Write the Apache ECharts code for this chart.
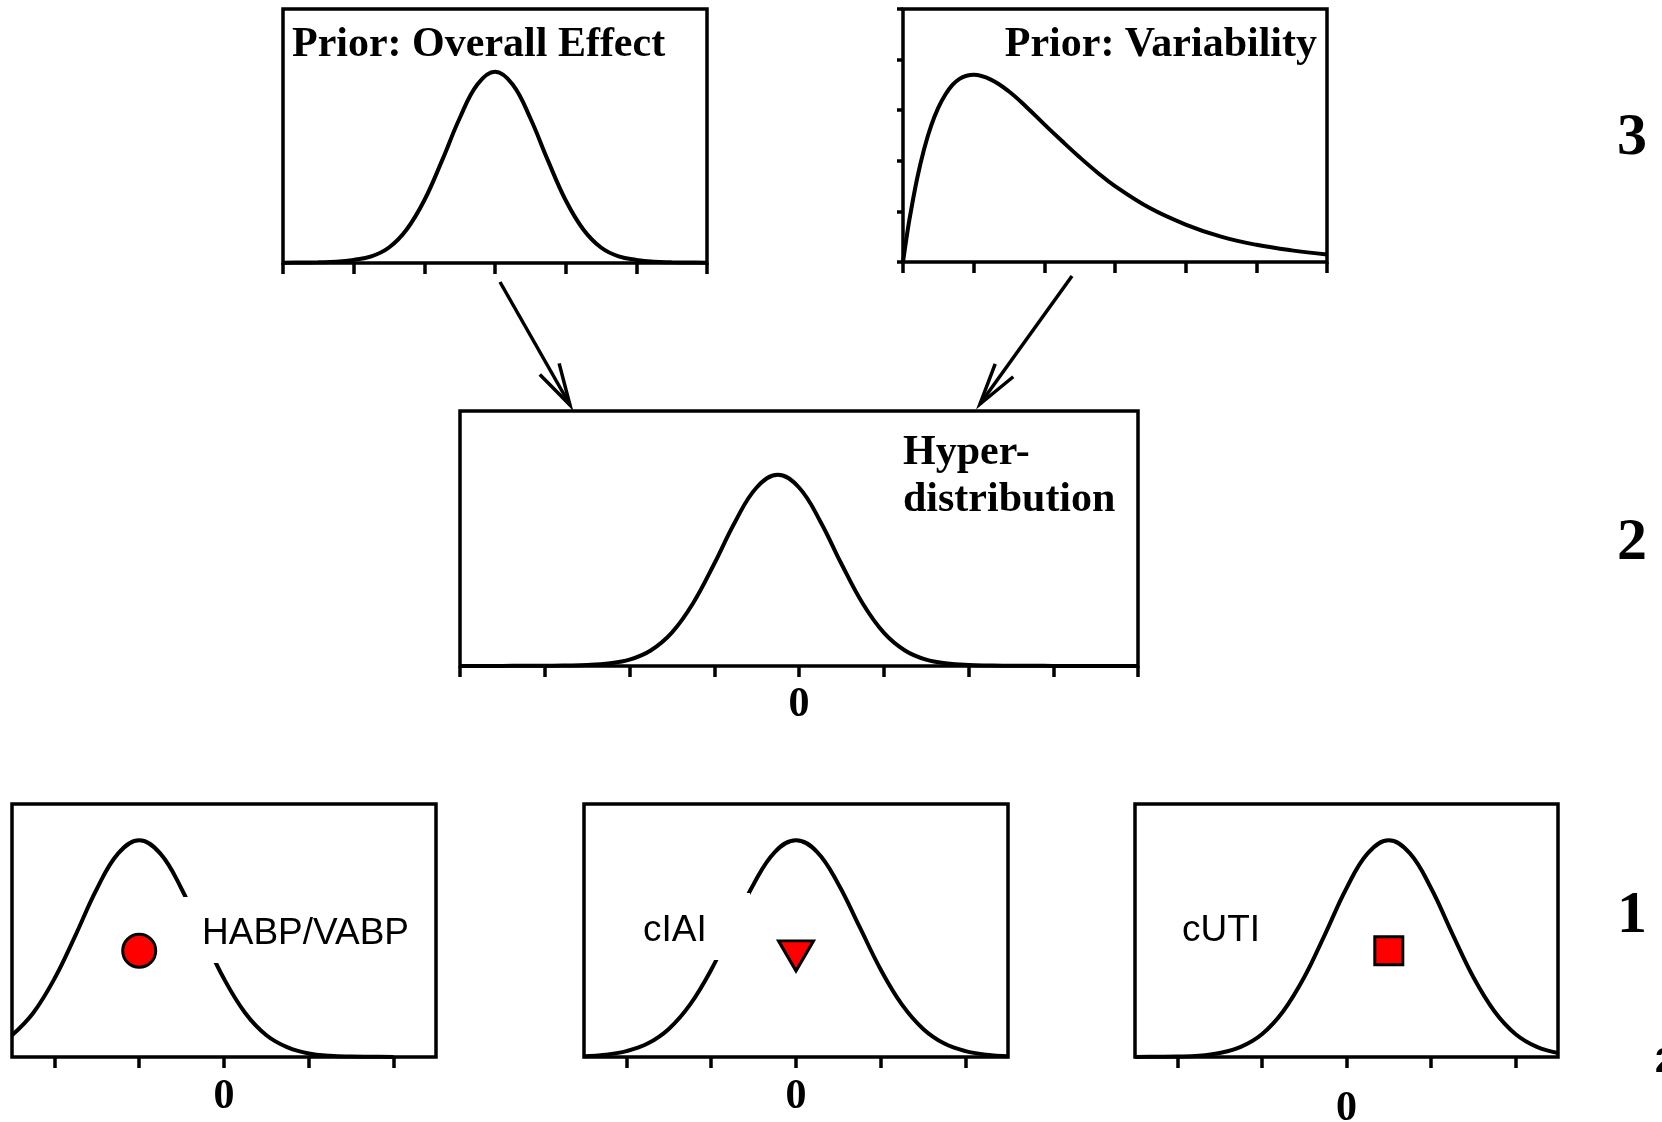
<!doctype html>
<html>
    <head>
        <meta charset="utf-8">
        <style>
            html, body { margin: 0; padding: 0; background: #fff; }
            #main { width: 1662px; height: 1122px; }
        </style>
    </head>
    <body>
        <div id="main"></div>
        <script src="https://cdn.jsdelivr.net/npm/echarts@6/dist/echarts.min.js"></script>
        <script>
            // level 3: priors
            var effectX = [-3, -2.75, -2.5, -2.25, -2, -1.75, -1.5, -1.25, -1, -0.75, -0.5, -0.25, 0,
                0.25, 0.5, 0.75, 1, 1.25, 1.5, 1.75, 2, 2.25, 2.5, 2.75, 3];
            var effectY = [0.001, 0.002, 0.003, 0.005, 0.012, 0.026, 0.061, 0.132, 0.247, 0.403, 0.570, 0.703, 0.753,
                0.703, 0.570, 0.403, 0.247, 0.132, 0.061, 0.026, 0.012, 0.005, 0.003, 0.002, 0.001];

            var varX = [0, 0.05, 0.1, 0.2, 0.3, 0.4, 0.5, 0.6, 0.7, 0.8, 0.9, 1, 1.25, 1.5, 1.75, 2,
                2.25, 2.5, 2.75, 3, 3.5, 4, 4.5, 5, 5.5, 6];
            var varY = [0, 0.48, 0.91, 1.65, 2.24, 2.70, 3.05, 3.31, 3.50, 3.62, 3.68, 3.70, 3.60, 3.37, 3.06, 2.72,
                2.39, 2.07, 1.77, 1.50, 1.06, 0.74, 0.50, 0.34, 0.23, 0.15];

            // level 2: hyperdistribution
            var hyperX = [-4, -3.75, -3.5, -3.25, -3, -2.75, -2.5, -2.25, -2, -1.75, -1.5, -1.25, -1, -0.75, -0.5, -0.25, 0,
                0.25, 0.5, 0.75, 1, 1.25, 1.5, 1.75, 2, 2.25, 2.5, 2.75, 3, 3.25, 3.5, 3.75, 4];
            var hyperY = [0, 0, 0, 0.001, 0.001, 0.002, 0.004, 0.010, 0.025, 0.061, 0.131, 0.246, 0.401, 0.568, 0.700, 0.750, 0.700,
                0.568, 0.401, 0.246, 0.131, 0.061, 0.025, 0.010, 0.004, 0.002, 0.001, 0.001, 0, 0, 0, 0, 0];

            // level 1: studies
            var habpX = [-2.5, -2.25, -2, -1.75, -1.5, -1.25, -1, -0.75, -0.5, -0.25, 0, 0.25, 0.5, 0.75, 1, 1.25, 1.5, 1.75, 2];
            var habpY = [0.086, 0.174, 0.309, 0.482, 0.664, 0.804, 0.857, 0.804, 0.664, 0.482, 0.309, 0.174, 0.086, 0.038,
                0.014, 0.005, 0.002, 0.001, 0];

            var studyGridX = [-2.5, -2.25, -2, -1.75, -1.5, -1.25, -1, -0.75, -0.5, -0.25, 0,
                0.25, 0.5, 0.75, 1, 1.25, 1.5, 1.75, 2, 2.25, 2.5];
            var ciaiY = [0.003, 0.009, 0.023, 0.053, 0.111, 0.207, 0.345, 0.514, 0.683, 0.810, 0.857,
                0.810, 0.683, 0.514, 0.345, 0.207, 0.111, 0.053, 0.023, 0.009, 0.003];
            var cutiY = [0, 0.001, 0.002, 0.005, 0.016, 0.040, 0.090, 0.180, 0.315, 0.488, 0.667,
                0.805, 0.857, 0.805, 0.667, 0.488, 0.315, 0.180, 0.090, 0.040, 0.016];

            var studyNames = ['HABP/VABP', 'cIAI', 'cUTI'];
            var studyEstX = [-1, 0, 0.5];
            var studyEstY = [0.42, 0.40, 0.42];

            // axis ticks
            var priorTicks = [-3, -2, -1, 0, 1, 2, 3];
            var varTicks = [0, 1, 2, 3, 4, 5, 6];
            var varYTicks = [0, 1, 2, 3, 4, 5];
            var hyperTicks = [-4, -3, -2, -1, 0, 1, 2, 3, 4];
            var studyTicks = [-2, -1, 0, 1, 2];
            var zeroLabel = [0];
            var levelLabels = ['3', '2', '1'];

            function pairs(xs, ys) {
                return xs.map(function (x, i) { return [x, ys[i]]; });
            }

            var serifBold = 'bold 42px "Liberation Serif", "Times New Roman", serif';
            var sans = '37px "Liberation Sans", Arial, sans-serif';

            function box(left, top, width, height) {
                return {
                    left: left, top: top, width: width, height: height,
                    show: true, borderColor: '#000', borderWidth: 3.5,
                    backgroundColor: 'transparent', outerBoundsMode: 'none'
                };
            }

            function xAx(grid, min, max, ticks, labels, margin) {
                return {
                    type: 'value', gridIndex: grid, min: min, max: max,
                    axisLine: { show: false },
                    axisTick: { show: true, length: 11, customValues: ticks, lineStyle: { color: '#000', width: 3.5 } },
                    axisLabel: {
                        show: !!labels, customValues: labels || [], margin: margin || 18,
                        color: '#000', fontFamily: '"Liberation Serif", serif', fontWeight: 'bold', fontSize: 42
                    },
                    splitLine: { show: false }
                };
            }

            function yAx(grid) {
                return { type: 'value', gridIndex: grid, min: 0, max: 1, show: false };
            }

            function curve(idx, data) {
                return {
                    type: 'line', xAxisIndex: idx, yAxisIndex: idx, data: data,
                    smooth: 0.4, showSymbol: false, silent: true,
                    lineStyle: { color: '#000', width: 4 }
                };
            }

            var symbols = ['circle', 'triangle', 'rect'];
            var symbolSizes = [33, [35, 30], 28];
            var markers = studyNames.map(function (name, i) {
                return {
                    type: 'scatter', name: name, xAxisIndex: 3 + i, yAxisIndex: 3 + i,
                    data: [[studyEstX[i], studyEstY[i]]],
                    symbol: symbols[i], symbolSize: symbolSizes[i], symbolRotate: i === 1 ? 180 : 0,
                    itemStyle: { color: '#ff0000', borderColor: '#000', borderWidth: 3, opacity: 1 },
                    z: 5
                };
            });

            function arrow(sx, sy, tx, ty) {
                var ang = Math.atan2(sy - ty, sx - tx);
                var len = 43, spread = 15 * Math.PI / 180;
                return [
                    { type: 'line', z: 10, shape: { x1: sx, y1: sy, x2: tx, y2: ty }, style: { stroke: '#000', lineWidth: 3.5 } },
                    { type: 'polyline', z: 10, shape: { points: [
                        [tx + len * Math.cos(ang - spread), ty + len * Math.sin(ang - spread)],
                        [tx, ty],
                        [tx + len * Math.cos(ang + spread), ty + len * Math.sin(ang + spread)]
                    ] }, style: { stroke: '#000', lineWidth: 3.5, fill: null } }
                ];
            }

            function txt(x, y, s, font, align) {
                return {
                    type: 'text', z: 101, x: x, y: y,
                    style: { text: s, font: font, fill: '#000', textAlign: align || 'left', align: align || 'left',
                        textVerticalAlign: 'middle', verticalAlign: 'middle' }
                };
            }

            var chart = echarts.init(document.getElementById('main'));

            var graphic = []
                .concat(arrow(500, 282, 570, 405))
                .concat(arrow(1072, 276, 980, 404))
                .concat([
                    { type: 'rect', z: 100, shape: { x: 178, y: 897, width: 237, height: 66 }, style: { fill: '#fff' } },
                    { type: 'rect', z: 100, shape: { x: 630, y: 893, width: 120, height: 67 }, style: { fill: '#fff' } },
                    txt(292, 45, 'Prior: Overall Effect', serifBold),
                    txt(1317, 45, 'Prior: Variability', serifBold, 'right'),
                    txt(903, 453, 'Hyper-', serifBold),
                    txt(903, 500, 'distribution', serifBold),
                    txt(202, 934, studyNames[0], sans),
                    txt(643, 931, studyNames[1], sans),
                    txt(1182, 931, studyNames[2], sans),
                    txt(1632, 138, levelLabels[0], 'bold 60px "Liberation Serif", serif', 'center'),
                    txt(1632, 543, levelLabels[1], 'bold 60px "Liberation Serif", serif', 'center'),
                    txt(1632, 916, levelLabels[2], 'bold 60px "Liberation Serif", serif', 'center'),
                    txt(1655, 1062, '2', 'bold 35px "Liberation Sans", Arial, sans-serif')
                ]);

            chart.setOption({
                animation: false,
                backgroundColor: '#fff',
                grid: [
                    box(283, 9, 424, 254),
                    box(903, 9, 424, 253),
                    box(460, 411, 678, 255),
                    box(12, 804, 424, 253),
                    box(584, 804, 424, 253),
                    box(1135, 804, 423, 253)
                ],
                xAxis: [
                    xAx(0, -3, 3, priorTicks),
                    xAx(1, 0, 6, varTicks),
                    xAx(2, -4, 4, hyperTicks, zeroLabel, 18),
                    xAx(3, -2.5, 2.5, studyTicks, zeroLabel, 19),
                    xAx(4, -2.5, 2.5, studyTicks, zeroLabel, 19),
                    xAx(5, -2.5, 2.5, studyTicks, zeroLabel, 31)
                ],
                yAxis: [
                    yAx(0),
                    {
                        type: 'value', gridIndex: 1, min: 0, max: 5,
                        axisLine: { show: false },
                        axisTick: { show: true, length: 6, customValues: varYTicks, lineStyle: { color: '#000', width: 3.5 } },
                        axisLabel: { show: false },
                        splitLine: { show: false }
                    },
                    yAx(2), yAx(3), yAx(4), yAx(5)
                ],
                series: [
                    curve(0, pairs(effectX, effectY)),
                    curve(1, pairs(varX, varY)),
                    curve(2, pairs(hyperX, hyperY)),
                    curve(3, pairs(habpX, habpY)),
                    curve(4, pairs(studyGridX, ciaiY)),
                    curve(5, pairs(studyGridX, cutiY))
                ].concat(markers),
                graphic: graphic
            });

            window.addEventListener('resize', function () {
                chart.resize();
            });
        </script>
    </body>
</html>
